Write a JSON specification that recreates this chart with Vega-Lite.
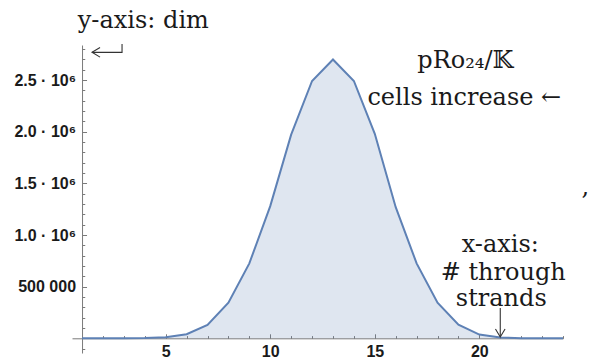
{
  "$schema": "https://vega.github.io/schema/vega-lite/v6.json",
  "width": 491,
  "height": 308,
  "autosize": {"type": "none"},
  "padding": {"left": 72, "top": 45, "right": 27, "bottom": 11},
  "background": "white",
  "config": {"view": {"stroke": null}},
  "datasets": {
    "series": [
      {"k": 1, "v": 0}, {"k": 2, "v": 100}, {"k": 3, "v": 600}, {"k": 4, "v": 2500},
      {"k": 5, "v": 11000}, {"k": 6, "v": 40000}, {"k": 7, "v": 130000}, {"k": 8, "v": 345000},
      {"k": 9, "v": 726000}, {"k": 10, "v": 1280000}, {"k": 11, "v": 1972000}, {"k": 12, "v": 2492000},
      {"k": 13, "v": 2700000}, {"k": 14, "v": 2492000}, {"k": 15, "v": 1980000}, {"k": 16, "v": 1270000},
      {"k": 17, "v": 726000}, {"k": 18, "v": 345000}, {"k": 19, "v": 132000}, {"k": 20, "v": 36000},
      {"k": 21, "v": 9000}, {"k": 22, "v": 2000}, {"k": 23, "v": 400}, {"k": 24, "v": 50}
    ],
    "notes": [
      {"x": 3.93, "y": 3004000, "label": "y-axis: dim"},
      {"x": 19.33, "y": 2617000, "label": "pRo₂₄/𝕂"},
      {"x": 19.28, "y": 2259000, "label": "cells increase ←"},
      {"x": 25.07, "y": 1387000, "label": ","},
      {"x": 21.0, "y": 835000, "label": "x-axis:"},
      {"x": 21.14, "y": 564000, "label": "# through"},
      {"x": 21.05, "y": 313000, "label": "strands"}
    ],
    "hookpath": [
      {"x": 1.478, "y": 2769000, "o": 1},
      {"x": 2.913, "y": 2769000, "o": 2},
      {"x": 2.913, "y": 2849000, "o": 3}
    ],
    "hooktip": [{"x": 1.478, "y": 2769000}],
    "downpath": [{"x": 21.0, "y": 293000, "y2": 12600}],
    "downtip": [{"x": 21.0, "y": 12600}]
  },
  "layer": [
    {
      "data": {"name": "series"},
      "mark": {"type": "area", "color": "#5E81B5", "opacity": 0.2},
      "encoding": {
        "x": {
          "field": "k", "type": "quantitative",
          "scale": {"domain": [0.52, 24], "nice": false, "zero": false},
          "axis": {
            "orient": "bottom", "offset": -14.7, "values": [5, 10, 15, 20],
            "title": null, "grid": false,
            "domainColor": "#7a7a7a", "tickColor": "#7a7a7a", "tickSize": -4.5, "tickWidth": 1,
            "labelFont": "Liberation Sans", "labelFontWeight": "bold", "labelFontSize": 16,
            "labelColor": "#1a1a1a", "labelPadding": 10, "labelFlush": false
          }
        },
        "y": {
          "field": "v", "type": "quantitative",
          "scale": {"domain": [-142000, 2840000], "nice": false, "zero": false},
          "axis": {
            "orient": "left", "offset": -10.04,
            "values": [500000, 1000000, 1500000, 2000000, 2500000],
            "labelExpr": "datum.value == 500000 ? '500 000' : format(datum.value / 1000000, '.1f') + ' · 10⁶'",
            "title": null, "grid": false,
            "domainColor": "#7a7a7a", "tickColor": "#7a7a7a", "tickSize": -4.5, "tickWidth": 1,
            "labelFont": "Liberation Sans", "labelFontWeight": "bold", "labelFontSize": 16,
            "labelColor": "#1a1a1a", "labelPadding": 11, "labelFlush": false
          }
        },
        "y2": {"datum": 0}
      }
    },
    {
      "data": {"name": "series"},
      "mark": {"type": "line", "color": "#5E81B5", "strokeWidth": 2},
      "encoding": {
        "x": {
          "field": "k", "type": "quantitative",
          "axis": {
            "orient": "bottom", "offset": -14.7,
            "values": [2, 3, 4, 6, 7, 8, 9, 11, 12, 13, 14, 16, 17, 18, 19, 21, 22, 23, 24],
            "labels": false, "domain": false, "title": null, "grid": false,
            "tickColor": "#7a7a7a", "tickSize": -2.7, "tickWidth": 1
          }
        },
        "y": {
          "field": "v", "type": "quantitative",
          "axis": {
            "orient": "left", "offset": -10.04,
            "values": [-100000, 100000, 200000, 300000, 400000, 600000, 700000, 800000, 900000, 1100000, 1200000, 1300000, 1400000, 1600000, 1700000, 1800000, 1900000, 2100000, 2200000, 2300000, 2400000, 2600000, 2700000, 2800000],
            "labels": false, "domain": false, "title": null, "grid": false,
            "tickColor": "#7a7a7a", "tickSize": -2.7, "tickWidth": 1
          }
        }
      }
    },
    {
      "data": {"name": "notes"},
      "mark": {"type": "text", "font": "DejaVu Serif", "fontSize": 24, "color": "#1a1a1a", "align": "center", "baseline": "alphabetic"},
      "encoding": {
        "x": {"field": "x", "type": "quantitative", "axis": null},
        "y": {"field": "y", "type": "quantitative", "axis": null},
        "text": {"field": "label"}
      }
    },
    {
      "data": {"name": "hookpath"},
      "mark": {"type": "line", "color": "#333333", "strokeWidth": 1.1},
      "encoding": {
        "x": {"field": "x", "type": "quantitative", "axis": null},
        "y": {"field": "y", "type": "quantitative", "axis": null},
        "order": {"field": "o"}
      }
    },
    {
      "data": {"name": "hooktip"},
      "mark": {"type": "point", "shape": "M1,-0.6L0,0L1,0.6", "filled": false, "size": 256, "color": "#333333", "strokeWidth": 1.1, "opacity": 1},
      "encoding": {
        "x": {"field": "x", "type": "quantitative", "axis": null},
        "y": {"field": "y", "type": "quantitative", "axis": null}
      }
    },
    {
      "data": {"name": "downpath"},
      "mark": {"type": "rule", "color": "#333333", "strokeWidth": 1.1},
      "encoding": {
        "x": {"field": "x", "type": "quantitative", "axis": null},
        "y": {"field": "y", "type": "quantitative", "axis": null},
        "y2": {"field": "y2"}
      }
    },
    {
      "data": {"name": "downtip"},
      "mark": {"type": "point", "shape": "M-0.6,-1L0,0L0.6,-1", "filled": false, "size": 256, "color": "#333333", "strokeWidth": 1.1, "opacity": 1},
      "encoding": {
        "x": {"field": "x", "type": "quantitative", "axis": null},
        "y": {"field": "y", "type": "quantitative", "axis": null}
      }
    }
  ],
  "resolve": {"axis": {"x": "independent", "y": "independent"}}
}
